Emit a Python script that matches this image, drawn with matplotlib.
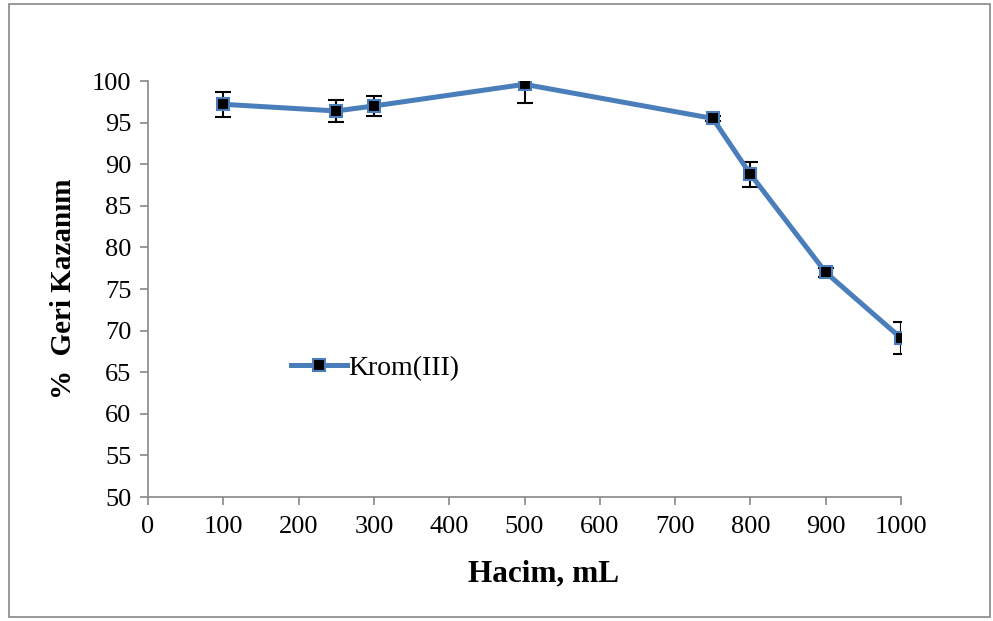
import matplotlib.pyplot as plt
from matplotlib.patches import Rectangle

plt.rcParams['font.family'] = ['Liberation Serif', 'DejaVu Serif']

# data
hacim = [100, 250, 300, 500, 750, 800, 900, 1000]
geri_kazanim = [97.2, 96.4, 97.0, 99.6, 95.5, 88.8, 77.0, 69.1]
hata = [1.5, 1.3, 1.2, 2.2, 0.3, 1.5, 0.5, 1.9]
x_ticks = list(range(0, 1001, 100))
y_ticks = list(range(50, 101, 5))

fig = plt.figure(figsize=(9.93, 6.21), dpi=100)
W, H = 993, 621
ax = fig.add_axes([148 / W, (H - 497) / H, (901 - 148) / W, (497 - 81) / H])

ax.errorbar(hacim, geri_kazanim, yerr=hata, fmt='none', ecolor='black',
            elinewidth=1.5, capsize=5.5, capthick=1.5, zorder=2)
ax.plot(hacim, geri_kazanim, color='#4a7ebb', lw=3.6, marker='s',
        markersize=8.5, markerfacecolor='black', markeredgecolor='#4a7ebb',
        markeredgewidth=1.5, label='Krom(III)', zorder=3)

ax.set_xlim(0, 1000)
ax.set_ylim(50, 100)
ax.set_xticks(x_ticks)
ax.set_yticks(y_ticks)
ax.tick_params(labelsize=19, colors='#888888', labelcolor='black',
               length=6, width=1.2, direction='out')
ax.tick_params(axis='x', pad=8)
ax.tick_params(axis='y', pad=6)
for side in ['top', 'right']:
    ax.spines[side].set_visible(False)
for side in ['left', 'bottom']:
    ax.spines[side].set_color('#888888')
    ax.spines[side].set_linewidth(1.2)

ax.set_xlabel('Hacim, mL', fontsize=22.5, fontweight='bold')
ax.xaxis.set_label_coords(0.525, -0.15)
ax.set_ylabel('%  Geri Kazanım', fontsize=21, fontweight='bold')
ax.yaxis.set_label_coords(-0.094, 0.5)

ax.legend(loc='center left', bbox_to_anchor=(0.172, 0.31), frameon=False,
          fontsize=20, handlelength=2.0, handletextpad=0.05, borderpad=0)

fig.patches.append(Rectangle((9 / W, 4 / H), 981 / W, 613 / H,
                             transform=fig.transFigure, fill=False,
                             edgecolor='#888888', lw=1.2))

fig.savefig('out.png', dpi=100)
